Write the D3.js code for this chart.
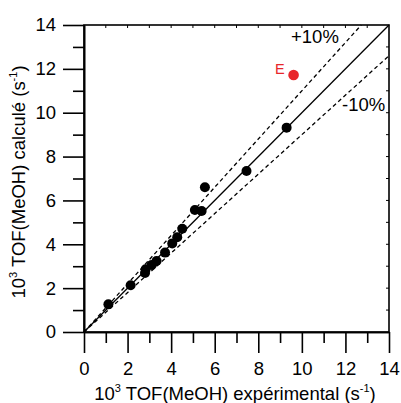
<!DOCTYPE html>
<html><head><meta charset="utf-8">
<script src="https://cdn.jsdelivr.net/npm/d3@7"></script>
<style>body{margin:0;background:#fff}svg{display:block;font-family:"Liberation Sans",Arial,sans-serif}</style>
</head><body><svg id="c" width="401" height="403"></svg>
<script>
const expX = [1.12, 2.14, 2.80, 2.83, 3.11, 3.33, 3.72, 4.05, 4.28, 4.51, 5.09, 5.40, 5.55, 7.46, 9.30];
const calcY = [1.26, 2.13, 2.69, 2.86, 3.06, 3.24, 3.62, 4.04, 4.32, 4.71, 5.56, 5.52, 6.60, 7.34, 9.32];
const outlierX = [9.62];
const outlierY = [11.72];
const outlierLabel = ["E"];
const majorTicks = [0, 2, 4, 6, 8, 10, 12, 14];
const minorTicks = [1, 3, 5, 7, 9, 11, 13];
const bandFactors = [1.1, 0.9];
const bandLabels = ["+10%", "-10%"];

const svg = d3.select("#c");
const x = d3.scaleLinear().domain([0, 14]).range([84, 389]);
const y = d3.scaleLinear().domain([0, 14]).range([332, 25]);
const FS = 18.5;

// frame
svg.append("rect").attr("x", x(0)).attr("y", y(14)).attr("width", x(14) - x(0)).attr("height", y(0) - y(14))
  .attr("fill", "none").attr("stroke", "#000").attr("stroke-width", 1.6);

// inner small ticks on top and right
const allT = d3.range(1, 14);
svg.append("g").selectAll("line").data(allT).join("line")
  .attr("x1", d => x(d)).attr("x2", d => x(d)).attr("y1", y(14)).attr("y2", y(14) + 3)
  .attr("stroke", "#000").attr("stroke-width", 1);
svg.append("g").selectAll("line").data(allT).join("line")
  .attr("y1", d => y(d)).attr("y2", d => y(d)).attr("x1", x(14)).attr("x2", x(14) - 3)
  .attr("stroke", "#000").attr("stroke-width", 1);

function styleAxis(g) {
  g.select(".domain").attr("stroke-width", 1.6);
  g.selectAll(".tick line").attr("stroke-width", 1.6);
  g.selectAll("text").attr("font-size", FS).attr("fill", "#000").attr("font-family", '"Liberation Sans",Arial,sans-serif');
}
svg.append("g").attr("transform", `translate(0,${y(0)})`)
  .call(d3.axisBottom(x).tickValues(majorTicks).tickSize(21).tickSizeOuter(0).tickPadding(9).tickFormat(d3.format("d")))
  .call(styleAxis);
svg.append("g").attr("transform", `translate(0,${y(0)})`)
  .call(d3.axisBottom(x).tickValues(minorTicks).tickSize(11).tickSizeOuter(0).tickFormat(""))
  .call(styleAxis);
svg.append("g").attr("transform", `translate(${x(0)},0)`)
  .call(d3.axisLeft(y).tickValues(majorTicks).tickSize(21).tickSizeOuter(0).tickPadding(7).tickFormat(d3.format("d")))
  .call(styleAxis);
svg.append("g").attr("transform", `translate(${x(0)},0)`)
  .call(d3.axisLeft(y).tickValues(minorTicks).tickSize(11).tickSizeOuter(0).tickFormat(""))
  .call(styleAxis);

// parity line
svg.append("line").attr("x1", x(0)).attr("y1", y(0)).attr("x2", x(14)).attr("y2", y(14))
  .attr("stroke", "#000").attr("stroke-width", 1.3);
// +/-10% lines
bandFactors.forEach(f => {
  const xe = Math.min(14, 14 / f);
  svg.append("line").attr("x1", x(0)).attr("y1", y(0)).attr("x2", x(xe)).attr("y2", y(xe * f))
    .attr("stroke", "#000").attr("stroke-width", 1.3).attr("stroke-dasharray", "4,3");
});
svg.append("text").attr("x", 291).attr("y", 43).attr("font-size", FS).text(bandLabels[0]);
svg.append("text").attr("x", 342).attr("y", 111).attr("font-size", FS).text(bandLabels[1]);

// points
svg.append("g").selectAll("circle").data(expX.map((v, i) => [v, calcY[i]])).join("circle")
  .attr("cx", d => x(d[0])).attr("cy", d => y(d[1])).attr("r", 5).attr("fill", "#000");
svg.append("g").selectAll("circle").data(outlierX.map((v, i) => [v, outlierY[i]])).join("circle")
  .attr("cx", d => x(d[0])).attr("cy", d => y(d[1])).attr("r", 5.3).attr("fill", "#e8262a");
svg.append("g").selectAll("text").data(outlierX.map((v, i) => [v, outlierY[i], outlierLabel[i]])).join("text")
  .attr("x", d => x(d[0]) - 9).attr("y", d => y(d[1]) - 1).attr("text-anchor", "end")
  .attr("font-size", 14.5).attr("fill", "#e8262a").text(d => d[2]);

// axis titles
const xt = svg.append("text").attr("x", 235).attr("y", 400).attr("text-anchor", "middle").attr("font-size", FS);
xt.append("tspan").text("10");
xt.append("tspan").attr("dy", -8).attr("font-size", 11).text("3");
xt.append("tspan").attr("dy", 8).text(" TOF(MeOH) expérimental (s");
xt.append("tspan").attr("dy", -8).attr("font-size", 11).text("-1");
xt.append("tspan").attr("dy", 8).text(")");

const yt = svg.append("text").attr("transform", "translate(25,182) rotate(-90)").attr("text-anchor", "middle").attr("font-size", FS);
yt.append("tspan").text("10");
yt.append("tspan").attr("dy", -8).attr("font-size", 11).text("3");
yt.append("tspan").attr("dy", 8).text(" TOF(MeOH) calculé (s");
yt.append("tspan").attr("dy", -8).attr("font-size", 11).text("-1");
yt.append("tspan").attr("dy", 8).text(")");
</script></body></html>
